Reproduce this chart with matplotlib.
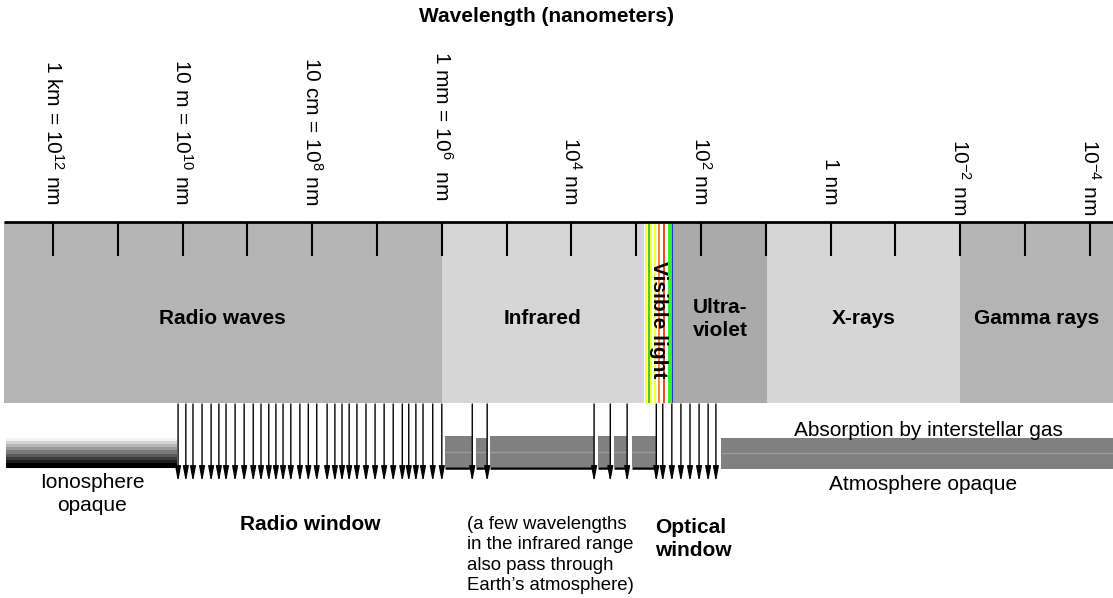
import numpy as np
import matplotlib.pyplot as plt

plt.rcParams['font.family'] = ['Liberation Sans', 'DejaVu Sans']
plt.rcParams['mathtext.default'] = 'regular'

# x axis = log10(wavelength in nm), decreasing to the right
band_edges = [12.76, 6.0, 2.88, 2.43, 0.98, -2.0, -4.36]
band_names = ["Radio waves", "Infrared", "Visible light", "Ultra-\nviolet", "X-rays", "Gamma rays"]
band_colors = ['#b4b4b4', '#d5d6d5', 'white', '#aaaaaa', '#d5d6d5', '#b4b4b4']

tick_exps = list(range(12, -5, -1))
label_exps = [12, 10, 8, 6, 4, 2, 0, -2, -4]
label_texts = ["1 km = 10$^{12}$ nm", "10 m = 10$^{10}$ nm", "10 cm = 10$^{8}$ nm",
               "1 mm = 10$^{6}$  nm", "10$^{4}$ nm", "10$^{2}$ nm", "1 nm",
               "10$^{-2}$ nm", "10$^{-4}$ nm"]
label_end = [205, 205, 205, 200, 205, 205, 205, 215, 215]

stripe_left = [2.864, 2.813, 2.787, 2.721, 2.659, 2.591, 2.514, 2.452]
stripe_right = [2.838, 2.787, 2.761, 2.690, 2.628, 2.556, 2.452, 2.427]
stripe_colors = ['#ffff33', '#44cc33', '#ffff33', '#ffff33', '#ff8833', '#ff4422', '#33ee33', '#1144cc']

radio_arrows = [10.07, 9.95, 9.84, 9.70, 9.56, 9.44, 9.33, 9.19, 9.05, 8.91, 8.79,
                8.67, 8.56, 8.45, 8.33, 8.19, 8.06, 7.93, 7.77, 7.65, 7.54, 7.43,
                7.31, 7.17, 7.03, 6.89, 6.75, 6.61, 6.51, 6.40, 6.29, 6.14, 6.00]
ir_arrows = [5.53, 5.30, 3.65, 3.40, 3.14]
optical_arrows = [2.69, 2.59, 2.45, 2.31, 2.17, 2.03, 1.89, 1.77]

ionosphere = (12.725, 10.10)
ir_opaque = [(5.95, 5.53), (5.47, 5.30), (5.26, 3.65), (3.59, 3.40), (3.34, 3.14), (3.07, 2.69)]
ir_tops = [436, 438, 436, 436, 436, 436]
interstellar = (1.69, -4.36)


def px(x):
    # pixel column -> exponent, for placing the free text
    return 12 - (x - 53) / 64.8


fig = plt.figure(figsize=(11.13, 5.98), dpi=100)
ax = fig.add_axes([0, 0, 1, 1])
ax.axis('off')

# spectrum band
for i in range(len(band_names)):
    ax.fill_between([band_edges[i], band_edges[i + 1]], 222, 403, color=band_colors[i], lw=0)
for l, r, c in zip(stripe_left, stripe_right, stripe_colors):
    ax.fill_between([l, r], 224, 403, color=c, lw=0)
ax.hlines(222, band_edges[0], band_edges[-1], color='black', lw=2)
ax.vlines(tick_exps, 222, 256, color='black', lw=1.5)

for i, name in enumerate(band_names):
    xc = (band_edges[i] + band_edges[i + 1]) / 2
    if name == "Visible light":
        ax.text(xc, 320, name, rotation=-90, ha='center', va='center',
                fontsize=15, fontweight='bold')
    else:
        ax.text(xc, 319, name, ha='center', va='center', fontsize=15,
                fontweight='bold', linespacing=1.3)

for e, t, yb in zip(label_exps, label_texts, label_end):
    ax.text(e, yb, t, rotation=-90, rotation_mode='anchor', ha='right', va='center', fontsize=15)

ax.text(px(546), 16, "Wavelength (nanometers)", ha='center', va='center',
        fontsize=15, fontweight='bold')

# ionosphere gradient
grad = np.linspace(0.95, 0.0, 9).reshape(-1, 1)
ax.imshow(grad, cmap='gray', vmin=0, vmax=1, aspect='auto', interpolation='nearest',
          extent=(ionosphere[0], ionosphere[1], 466, 438))
ax.hlines(466.5, ionosphere[0], ionosphere[1], color='black', lw=1.5)

# infrared absorption bars
for (l, r), top in zip(ir_opaque, ir_tops):
    ax.fill_between([l, r], top, 467, color='#808080', lw=0)
    ax.hlines(452, l, r, color='#9c9c9c', lw=1)
    ax.hlines(468, l, r, color='black', lw=1.8)

# interstellar gas bar
ax.fill_between(list(interstellar), 438, 469, color='#808080', lw=0)
ax.hlines(453, interstellar[0], interstellar[1], color='#9c9c9c', lw=1)

for e in radio_arrows + ir_arrows + optical_arrows:
    ax.annotate('', xy=(e, 482), xytext=(e, 404),
                arrowprops=dict(arrowstyle='-|>,head_length=0.9,head_width=0.17',
                                mutation_scale=10, lw=1.0, color='black',
                                shrinkA=0, shrinkB=0))

ax.text(px(92), 494, "Ionosphere\nopaque", ha='center', va='center', fontsize=15, linespacing=1.3)
ax.text(px(310), 524, "Radio window", ha='center', va='center', fontsize=15, fontweight='bold')
ax.text(px(467), 516, "(a few wavelengths\nin the infrared range\nalso pass through\nEarth\u2019s atmosphere)",
        ha='left', va='top', fontsize=13.4, linespacing=1.25)
ax.text(px(655), 539, "Optical\nwindow", ha='left', va='center', fontsize=15,
        fontweight='bold', linespacing=1.25)
ax.text(px(928), 430, "Absorption by interstellar gas", ha='center', va='center', fontsize=15)
ax.text(px(923), 485, "Atmosphere opaque", ha='center', va='center', fontsize=15)

ax.set_xlim(12.818, -4.358)
ax.set_ylim(598, 0)

fig.savefig('out.png', dpi=100)
